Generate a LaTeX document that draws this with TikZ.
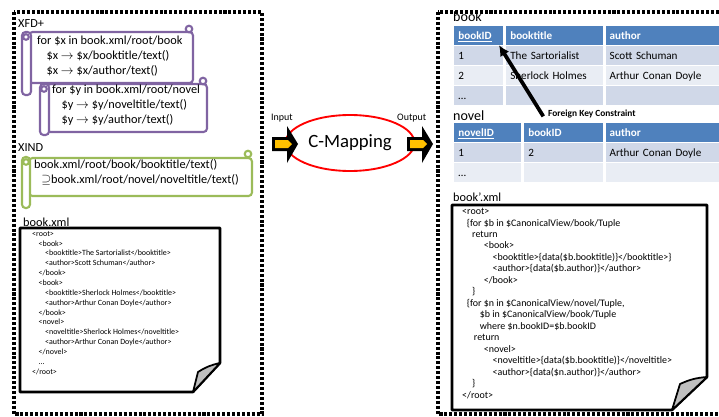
\documentclass[tikz,border=0pt]{standalone}
\usepackage{fontspec}
\setmainfont{Carlito}
\usetikzlibrary{shapes.geometric,arrows.meta,positioning}
\definecolor{scrollpurple}{HTML}{8064A2}
\definecolor{scrollgreen}{HTML}{9BBB59}
\definecolor{hdrblue}{HTML}{4F81BD}
\definecolor{rowdark}{HTML}{D0D8E8}
\definecolor{rowlight}{HTML}{E9EDF4}
\definecolor{arrowyellow}{HTML}{FFC000}
\begin{document}
\begin{tikzpicture}[x=0.03cm, y=-0.03cm,
  frame/.style={line width=2.8pt, dash pattern=on 2.6pt off 1.6pt},
  xfd/.style={draw=scrollpurple, line width=1.8pt, fill=white, rounded corners=3pt},
  xind/.style={draw=scrollgreen, line width=1.8pt, fill=white, rounded corners=3pt},
  paper/.style={draw=black, line width=2.2pt, fill=white, line join=round},
  fold/.style={draw=black, line width=1.5pt, fill=black!25, line join=round},
  title/.style={anchor=west, inner sep=0pt, font=\fontsize{10.5}{12}\selectfont},
  scrolltext/.style={anchor=north west, inner sep=0pt, align=left, font=\fontsize{10.5}{12.75}\selectfont},
  xmltext/.style={anchor=north west, inner sep=0pt, align=left, font=\fontsize{6.8}{8.4}\selectfont},
  viewtext/.style={anchor=north west, inner sep=0pt, align=left, font=\fontsize{8.5}{9.8}\selectfont},
  cell/.style={anchor=north west, draw=white, line width=1.2pt, minimum height=0.6cm,
    inner xsep=4pt, inner ysep=0pt, text height=1.6ex, text depth=.4ex, align=left,
    font=\fontsize{9.5}{11}\selectfont},
  hdr/.style={cell, fill=hdrblue, text=white, font=\fontsize{9.5}{11}\selectfont\bfseries},
  rowA/.style={cell, fill=rowdark},
  rowB/.style={cell, fill=rowlight},
  fk/.style={line width=3.2pt, -{Latex[length=9pt,width=9pt]}}]
  \useasboundingbox (0,0) rectangle (719,417);

  % the two dotted frames
  \draw[frame] (14,12) rectangle (262,414);
  \draw[frame] (438,12) rectangle (730,414);

  % XFD+ scrolls
  \node[title] (xfdlabel) at (18,24) {XFD+};
  \draw[xfd] (29,32) rectangle (193,83);
  \draw[xfd] (22,32) rectangle (31,95);
  \draw[xfd] (26,37) circle (2.4pt);
  \draw[xfd] (189,29) circle (2.8pt);
  \node[scrolltext] (xfdbook) at (37,36) {for \$x in book.xml/root/book\\
    \hspace*{8pt}\$x $\rightarrow$ \$x/booktitle/text()\\
    \hspace*{8pt}\$x $\rightarrow$ \$x/author/text()};
  \draw[xfd] (47,84) rectangle (207,132);
  \draw[xfd] (40,84) rectangle (49,135);
  \draw[xfd] (44,89) circle (2.4pt);
  \draw[xfd] (203,81) circle (2.8pt);
  \node[scrolltext] (xfdnovel) at (52,85) {for \$y in book.xml/root/novel\\
    \hspace*{8pt}\$y $\rightarrow$ \$y/noveltitle/text()\\
    \hspace*{8pt}\$y $\rightarrow$ \$y/author/text()};

  % XIND scroll
  \node[title] (xindlabel) at (18,148) {XIND};
  \draw[xind] (29,158) rectangle (252,196);
  \draw[xind] (22,157) rectangle (30,208);
  \draw[xind] (26,162) circle (2.4pt);
  \draw[xind] (248,154) circle (2.8pt);
  \node[scrolltext] (xindtext) at (34,159) {book.xml/root/book/booktitle/text()\\
    \hspace*{6pt}$\supseteq$book.xml/root/novel/noveltitle/text()};

  % book.xml
  \node[title] (xmllabel) at (23,222) {book.xml};
  \draw[paper] (20,228) -- (220,228) -- (220,363) -- (193,392) -- (20,392) -- cycle;
  \draw[fold] (193,392) -- (198,372) to[bend left=10] (220,363) -- cycle;
  \node[xmltext] (xmlbody) at (32,231) {<root>\\
    \hspace*{5.5pt}<book>\\
    \hspace*{11pt}<booktitle>The Sartorialist</booktitle>\\
    \hspace*{11pt}<author>Scott Schuman</author>\\
    \hspace*{5.5pt}</book>\\
    \hspace*{5.5pt}<book>\\
    \hspace*{11pt}<booktitle>Sherlock Holmes</booktitle>\\
    \hspace*{11pt}<author>Arthur Conan Doyle</author>\\
    \hspace*{5.5pt}</book>\\
    \hspace*{5.5pt}<novel>\\
    \hspace*{11pt}<noveltitle>Sherlock Holmes</noveltitle>\\
    \hspace*{11pt}<author>Arthur Conan Doyle</author>\\
    \hspace*{5.5pt}</novel>\\
    \hspace*{5.5pt}...\\
    </root>};

  % input / output arrows and C-Mapping
  \node[ellipse, draw=red, line width=1.6pt, minimum width=2.85cm, minimum height=1.68cm,
    font=\fontsize{16}{18}\selectfont] (cmap) at (350,143) {C-Mapping};
  \foreach \x in {272,407} {
    \fill[shift={(\x,0)}] (0,137) -- (15,137) -- (15,126) -- (26,144) -- (15,163) -- (15,151) -- (0,151) -- cycle;
    \fill[arrowyellow, shift={(\x,0)}] (3,140) -- (16,140) -- (20,144) -- (16,148) -- (3,148) -- cycle;
  }
  \node[anchor=west, inner sep=0pt, font=\fontsize{8.5}{10}\selectfont] (inlabel) at (271,118) {Input};
  \node[anchor=west, inner sep=0pt, font=\fontsize{8.5}{10}\selectfont] (outlabel) at (397,118) {Output};

  % book table
  \node[title, font=\fontsize{12}{13}\selectfont] (booklabel) at (453,17) {book};
  \node[hdr, text width=1.233cm] (book-0-1) at (453,25) {\underline{bookID}};
  \node[hdr, text width=2.658cm, right=0pt of book-0-1] (book-0-2) {booktitle};
  \node[hdr, text width=3.273cm, right=0pt of book-0-2] (book-0-3) {author};
  \foreach \r/\st/\a/\b/\c in {1/rowA/1/The Sartorialist/Scott Schuman,
      2/rowB/2/Sherlock Holmes/Arthur Conan Doyle, 3/rowA/\ldots/{}/{}} {
    \node[\st, text width=1.233cm] (book-\r-1) at (453,{25+20*\r}) {\a};
    \node[\st, text width=2.658cm, right=0pt of book-\r-1] (book-\r-2) {\b};
    \node[\st, text width=3.273cm, right=0pt of book-\r-2] (book-\r-3) {\c};
  }

  % novel table
  \node[title, font=\fontsize{12}{13}\selectfont] (novellabel) at (453,116) {novel};
  \node[hdr, text width=1.773cm] (novel-0-1) at (453,122) {\underline{novelID}};
  \node[hdr, text width=2.118cm, right=0pt of novel-0-1] (novel-0-2) {bookID};
  \node[hdr, text width=3.273cm, right=0pt of novel-0-2] (novel-0-3) {author};
  \foreach \r/\st/\a/\b/\c in {1/rowA/1/2/Arthur Conan Doyle, 2/rowB/\ldots/{}/{}} {
    \node[\st, text width=1.773cm] (novel-\r-1) at (453,{122+20*\r}) {\a};
    \node[\st, text width=2.118cm, right=0pt of novel-\r-1] (novel-\r-2) {\b};
    \node[\st, text width=3.273cm, right=0pt of novel-\r-2] (novel-\r-3) {\c};
  }

  % foreign key
  \node[anchor=west, inner sep=0pt, font=\fontsize{8}{10}\selectfont\bfseries] (fklabel) at (548,114) {Foreign Key Constraint};
  \draw[fk] ([xshift=-4pt,yshift=-2pt]fklabel.west) -- ([xshift=-5pt,yshift=1pt]book-0-1.south east);

  % book'.xml
  \node[title] (viewlabel) at (453,197) {book'.xml};
  \draw[paper] (452,205) -- (707,205) -- (707,377) -- (672,410) -- (452,410) -- cycle;
  \draw[fold] (672,410) -- (680,384) to[bend left=10] (707,377) -- cycle;
  \node[viewtext] (viewbody) at (462,208) {<root>\\
    \hspace*{4pt}\{for \$b in \$CanonicalView/book/Tuple\\
    \hspace*{8.5pt}return\\
    \hspace*{18.5pt}<book>\\
    \hspace*{26pt}<booktitle>\{data(\$b.booktitle)\}</booktitle>\}\\
    \hspace*{26pt}<author>\{data(\$b.author)\}</author>\\
    \hspace*{18.5pt}</book>\\
    \hspace*{8.5pt}\}\\
    \hspace*{4pt}\{for \$n in \$CanonicalView/novel/Tuple,\\
    \hspace*{15pt}\$b in \$CanonicalView/book/Tuple\\
    \hspace*{15pt}where \$n.bookID=\$b.bookID\\
    \hspace*{10pt}return\\
    \hspace*{18.5pt}<novel>\\
    \hspace*{26pt}<noveltitle>\{data(\$b.booktitle)\}</noveltitle>\\
    \hspace*{26pt}<author>\{data(\$n.author)\}</author>\\
    \hspace*{8.5pt}\}\\
    </root>};
\end{tikzpicture}
\end{document}
